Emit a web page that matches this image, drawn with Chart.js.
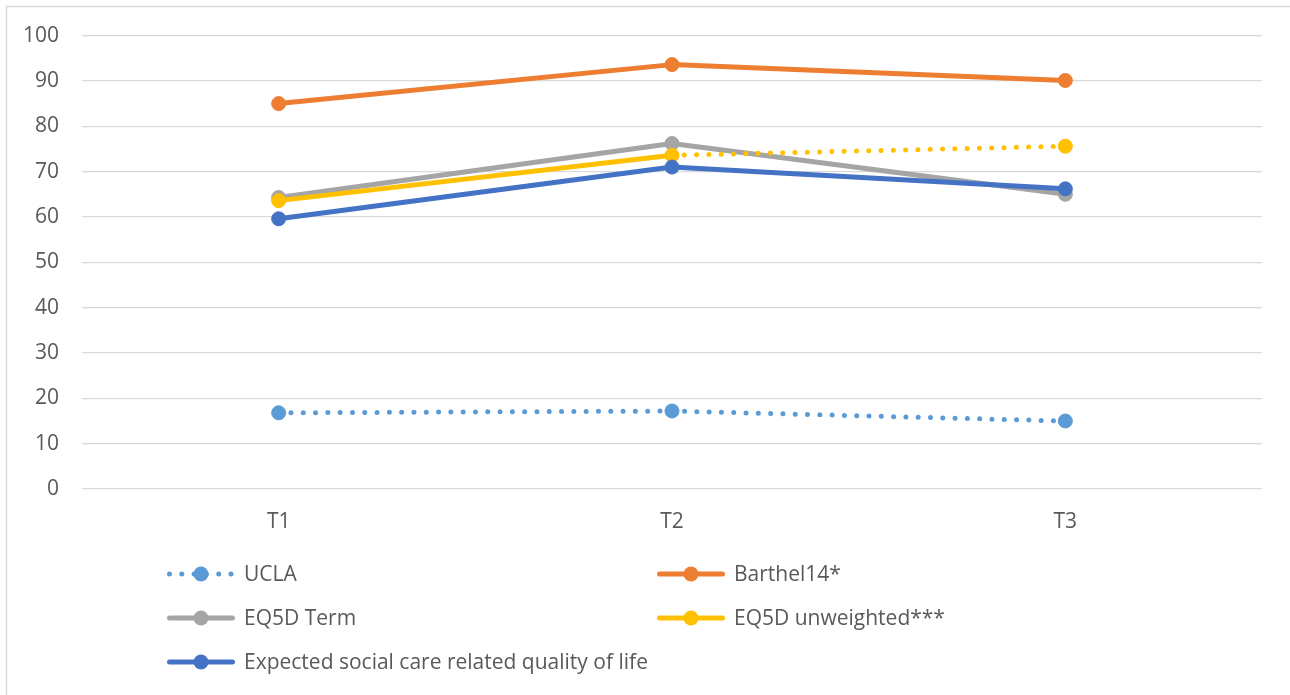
<!DOCTYPE html>
<html>
<head>
<meta charset="utf-8">
<title>Outcome measures over time</title>
<script src="https://cdn.jsdelivr.net/npm/chart.js@4.4.0/dist/chart.umd.min.js"></script>
<style>
  html, body { margin: 0; padding: 0; background: #ffffff; }
  #wrap { width: 1290px; height: 695px; position: relative; overflow: hidden; }
  canvas { display: block; }
</style>
</head>
<body>
<div id="wrap"><canvas id="chart" width="1290" height="695"></canvas></div>
<script>
// Measurement points
const timepoints = ['T1', 'T2', 'T3'];

// Mean scores per measure
const ucla           = [16.8, 17.2, 15.0];
const barthel        = [85.0, 93.6, 90.1];
const eq5dTerm       = [64.3, 76.2, 65.0];
const eq5dUnweighted = [63.6, 73.6, 75.6];
const expectedScrqol = [59.6, 71.0, 66.2];

// Y axis tick values
const yTickValues = [0, 10, 20, 30, 40, 50, 60, 70, 80, 90, 100];

// Series names
const seriesNames = [
  'UCLA',
  'Barthel14*',
  'EQ5D Term',
  'EQ5D unweighted***',
  'Expected social care related quality of life'
];

const TEXT = '#595959';
const GRID = '#d9d9d9';
const FONT = 'Open Sans';
const FONT_SIZE = 21;
const DOTS = [0, 12.3];

Chart.defaults.font.family = FONT;
Chart.defaults.color = TEXT;

function lineSet(label, data, color, extra) {
  return Object.assign({
    label: label,
    data: data,
    borderColor: color,
    backgroundColor: color,
    pointBackgroundColor: color,
    pointBorderColor: color,
    borderWidth: 5,
    pointRadius: 7,
    pointBorderWidth: 1,
    pointHoverRadius: 7,
    borderCapStyle: 'round',
    borderJoinStyle: 'round',
    tension: 0,
    fill: false
  }, extra || {});
}

const datasets = [
  lineSet(seriesNames[0], ucla, '#5B9BD5', { borderDash: DOTS, order: 5, dotted: true }),
  lineSet(seriesNames[1], barthel, '#ED7D31', { order: 4 }),
  lineSet(seriesNames[2], eq5dTerm, '#A5A5A5', { order: 3 }),
  lineSet(seriesNames[3], eq5dUnweighted, '#FFC000', {
    order: 2,
    segment: {
      borderDash: ctx => ctx.p0DataIndex === 1 ? DOTS : undefined
    }
  }),
  lineSet(seriesNames[4], expectedScrqol, '#4472C4', { order: 1 })
];

// Frame lines along the top and left edges
const framePlugin = {
  id: 'frame',
  beforeDraw(chart) {
    const c = chart.ctx;
    c.save();
    c.fillStyle = '#ffffff';
    c.fillRect(0, 0, chart.width, chart.height);
    c.strokeStyle = GRID;
    c.lineWidth = 1.5;
    c.beginPath();
    c.moveTo(6.5, chart.height);
    c.lineTo(6.5, 6.5);
    c.lineTo(chart.width, 6.5);
    c.stroke();
    c.restore();
  }
};

// Two-column legend below the plot
const legendPlugin = {
  id: 'twoColLegend',
  afterDraw(chart) {
    const c = chart.ctx;
    const cols = [167, 657];
    const rows = [574, 618, 662];
    const lineLen = 68;
    c.save();
    c.font = FONT_SIZE + 'px "' + FONT + '"';
    c.textBaseline = 'middle';
    c.textAlign = 'left';
    chart.data.datasets.forEach((ds, i) => {
      const x0 = cols[i % 2];
      const y = rows[Math.floor(i / 2)];
      const color = ds.borderColor;
      c.strokeStyle = color;
      c.lineCap = 'round';
      c.lineWidth = 5;
      c.setLineDash(ds.dotted ? DOTS : []);
      c.beginPath();
      c.moveTo(x0 + 2.5, y);
      c.lineTo(x0 + lineLen - 2.5, y);
      c.stroke();
      c.setLineDash([]);
      c.fillStyle = color;
      c.beginPath();
      c.arc(x0 + lineLen / 2, y, 7.5, 0, Math.PI * 2);
      c.fill();
      c.fillStyle = TEXT;
      c.fillText(ds.label, x0 + lineLen + 9, y + 1);
    });
    c.restore();
  }
};

new Chart(document.getElementById('chart'), {
  type: 'line',
  data: { labels: timepoints, datasets: datasets },
  options: {
    responsive: false,
    animation: false,
    devicePixelRatio: 1,
    layout: { padding: { top: 35, right: 28, bottom: 150, left: 0 } },
    plugins: {
      legend: { display: false },
      tooltip: { enabled: false }
    },
    scales: {
      x: {
        type: 'category',
        offset: true,
        grid: { display: false, drawTicks: false },
        border: { display: false },
        ticks: { color: TEXT, font: { size: FONT_SIZE }, padding: 20 },
        afterFit(scale) { scale.height = 56; }
      },
      y: {
        min: 0,
        max: 100,
        grid: { color: GRID, lineWidth: 1.3, drawTicks: false },
        border: { display: false },
        ticks: { color: TEXT, font: { size: FONT_SIZE }, padding: 23 },
        afterBuildTicks(scale) { scale.ticks = yTickValues.map(v => ({ value: v })); },
        afterFit(scale) { scale.width = 82; }
      }
    }
  },
  plugins: [framePlugin, legendPlugin]
});
</script>
</body>
</html>
